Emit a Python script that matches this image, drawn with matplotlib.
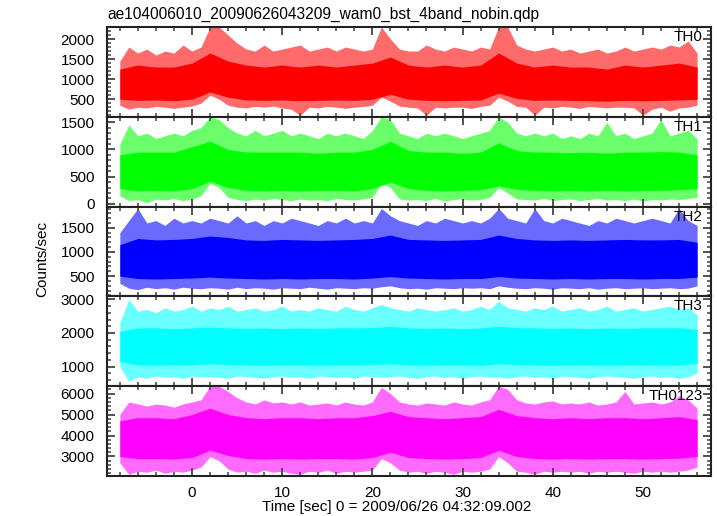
import numpy as np
import matplotlib
matplotlib.use("Agg")
import matplotlib.pyplot as plt
from matplotlib.ticker import MultipleLocator

plt.rcParams['font.family'] = ['Liberation Sans', 'DejaVu Sans']

# ---------------- data ----------------
# 1-s envelope of the spikes (t = -8 ... 56)
t_sec = list(range(-8, 57))
# 2-s envelope of the dense core (t = -8, -6, ... 56)
t_core = list(range(-8, 57, 2))

th0_spike_hi = [1450,1800,1650,1750,1600,1700,1650,1850,1700,1800,
                2300,2300,2100,1900,1750,1700,1850,1700,1750,1800,
                1850,1700,1750,1800,1700,1800,1750,1700,1750,2300,
                2000,1750,1700,1700,1850,1750,1700,1800,1750,1700,
                1800,1750,2300,2300,1850,1750,1700,1750,1800,1700,
                1750,1650,1700,1750,1650,1700,1800,1700,1750,1800,
                1750,1850,1800,1950,1650]
th0_spike_lo = [350,250,300,280,320,300,270,300,330,400,
                600,500,350,300,280,320,300,330,280,250,
                100,300,280,320,300,270,300,320,350,550,
                450,330,300,280,100,300,280,300,300,270,
                320,350,550,450,320,300,100,300,280,320,
                300,270,320,300,280,300,300,280,100,250,
                300,200,280,300,350]
th0_core_hi = [1250,1350,1300,1300,1400,1650,1450,1350,1300,1350,1300,1350,1300,1350,1400,1550,1350,
               1300,1350,1300,1350,1650,1400,1300,1350,1300,1300,1250,1350,1300,1350,1400,1300]
th0_core_lo = [500,470,480,460,500,680,550,480,470,480,460,470,480,470,500,620,500,
               470,460,470,480,650,520,470,480,470,460,450,470,460,470,480,500]

th1_spike_hi = [1100,1450,1250,1300,1200,1250,1300,1250,1350,1400,
                1600,1550,1400,1300,1250,1350,1250,1300,1350,1250,
                1300,1250,1200,1300,1250,1300,1250,1200,1350,1600,
                1550,1300,1250,1200,1300,1250,1300,1250,1200,1250,
                1300,1350,1600,1500,1300,1250,1300,1250,1300,1200,
                1250,1200,1300,1250,1500,1250,1300,1200,1250,1300,
                1550,1250,1300,1350,1200]
th1_spike_lo = [150,60,80,20,90,70,100,60,90,150,
                380,300,120,80,60,90,70,100,80,60,
                90,70,80,60,100,80,70,90,120,380,
                300,90,70,80,60,100,50,80,90,70,
                80,120,300,200,90,80,70,100,60,80,
                90,60,80,100,70,80,60,90,50,80,
                70,90,80,100,120]
th1_core_hi = [900,950,950,950,1050,1150,1000,950,950,950,950,930,950,950,1000,1150,980,
               950,950,930,950,1120,980,950,950,940,950,930,950,950,960,950,900]
th1_core_lo = [280,240,250,240,280,420,300,250,240,250,240,250,250,240,280,400,280,
               250,240,250,260,330,270,250,240,250,240,250,240,250,250,260,280]

th2_spike_hi = [1400,1650,1900,1600,1650,1550,1700,1600,1650,1600,
                1700,1650,1600,1750,1600,1650,1550,1650,1600,1700,
                1650,1600,1550,1650,1600,1700,1600,1650,1600,1900,
                1750,1650,1600,1550,1650,1600,1700,1650,1600,1650,
                1600,1700,1900,1700,1650,1600,1900,1650,1600,1700,
                1650,1600,1550,1650,1600,1700,1650,1600,1650,1700,
                1650,1600,1900,1650,1550]
th2_spike_lo = [350,250,220,270,240,260,230,270,250,240,
                260,250,230,270,240,260,250,230,260,250,
                240,270,250,230,260,250,240,260,250,280,
                300,260,240,250,230,260,250,240,260,250,
                260,240,300,270,250,240,260,250,230,260,
                250,240,260,230,250,260,240,250,260,240,
                250,260,240,250,300]
th2_core_hi = [1150,1280,1250,1260,1280,1330,1300,1250,1240,1260,1250,1240,1250,1260,1280,1350,1260,
               1250,1240,1250,1260,1350,1280,1250,1240,1250,1240,1250,1260,1250,1250,1260,1200]
th2_core_lo = [500,450,440,450,460,480,460,450,440,450,440,450,450,440,460,490,460,
               450,440,450,450,490,460,450,440,450,440,450,450,440,450,450,480]

th3_spike_hi = [2300,3000,2650,2700,2600,2750,2650,2700,2800,2650,
                2750,2700,2800,2650,2700,2750,2650,2700,2800,2650,
                2700,2650,2750,2700,2650,2800,2700,2650,2750,2850,
                2750,2700,2650,2750,2700,2650,2700,2750,2650,2700,
                2800,2700,2950,2750,2700,2650,2750,2700,2800,2650,
                2700,2750,2650,2700,2800,2650,2700,2750,2650,2700,
                2750,2800,2700,2750,2550]
th3_spike_lo = [1000,550,700,650,720,680,700,650,720,700,
                700,680,650,720,700,680,650,700,720,680,
                700,650,720,700,680,700,650,720,700,680,
                700,720,680,650,700,720,680,700,650,700,
                720,680,700,650,700,720,680,700,650,720,
                700,680,650,700,720,700,680,650,700,720,
                680,700,650,700,800]
th3_core_hi = [2050,2150,2150,2130,2150,2180,2150,2140,2150,2130,2150,2140,2150,2150,2160,2200,2150,
               2140,2150,2130,2150,2200,2160,2150,2140,2150,2130,2150,2140,2150,2150,2160,2100]
th3_core_lo = [1150,1050,1040,1050,1050,1080,1060,1050,1040,1050,1050,1040,1050,1050,1060,1080,1050,
               1040,1050,1050,1040,1080,1060,1050,1040,1050,1050,1040,1050,1050,1040,1050,1100]

th0123_spike_hi = [5000,5600,5500,5400,5500,5450,5350,5500,5600,5700,
                   6350,6350,6100,5800,5600,5500,5700,5550,5600,5500,
                   5600,5450,5500,5550,5450,5600,5500,5450,5600,6300,
                   6000,5600,5500,5450,5550,5500,5450,5600,5500,5450,
                   5600,5700,6350,6200,5700,5550,5500,5600,5650,5500,
                   5550,5500,5600,5450,5500,5600,6100,5500,5550,5600,
                   5500,5600,5900,5700,5300]
th0123_spike_lo = [2700,2150,2300,2250,2350,2200,2300,2250,2350,2500,
                   3000,2800,2400,2250,2300,2200,2350,2250,2300,2200,
                   2150,2300,2250,2350,2200,2300,2250,2300,2350,2900,
                   2700,2350,2250,2300,2200,2300,2250,2150,2300,2250,
                   2300,2400,3000,2700,2300,2250,2150,2300,2250,2300,
                   2250,2300,2200,2300,2250,2300,2250,2200,2300,2250,
                   2300,2250,2300,2350,2500]
th0123_core_hi = [4700,4850,4850,4800,5000,5300,5000,4850,4800,4850,4850,4800,4850,4850,4950,5150,4900,
                  4850,4800,4850,4900,5250,4950,4850,4800,4850,4800,4850,4850,4800,4850,4900,4750]
th0123_core_lo = [3000,2900,2900,2880,2950,3300,3050,2900,2880,2900,2880,2900,2900,2880,2950,3200,2950,
                  2900,2880,2900,2950,3300,3000,2900,2880,2900,2880,2900,2900,2880,2900,2920,3000]

labels = ["TH0", "TH1", "TH2", "TH3", "TH0123"]
colors = ["#ff0000", "#00ff00", "#0000ff", "#00ffff", "#ff00ff"]
light_colors = ["#ff6a6a", "#6aff6a", "#6a6aff", "#6affff", "#ff6aff"]
ylims = [(60, 2300), (-50, 1600), (80, 1940), (415, 3090), (2070, 6350)]
major_steps = [500, 500, 500, 1000, 1000]
minor_steps = [100, 100, 100, 200, 200]

spikes = [(th0_spike_lo, th0_spike_hi), (th1_spike_lo, th1_spike_hi), (th2_spike_lo, th2_spike_hi),
          (th3_spike_lo, th3_spike_hi), (th0123_spike_lo, th0123_spike_hi)]
cores = [(th0_core_lo, th0_core_hi), (th1_core_lo, th1_core_hi), (th2_core_lo, th2_core_hi),
         (th3_core_lo, th3_core_hi), (th0123_core_lo, th0123_core_hi)]

title = "ae104006010_20090626043209_wam0_bst_4band_nobin.qdp"
xlabel = "Time [sec] 0 = 2009/06/26 04:32:09.002"
ylabel = "Counts/sec"

# ---------------- figure ----------------
W, H = 717, 516
fig = plt.figure(figsize=(W / 100, H / 100), dpi=100)

left_px, right_px = 107, 711
top_px, bottom_px = 27, 476
n = 5
ph = (bottom_px - top_px) / n

axes = []
for i in range(n):
    y0 = top_px + i * ph
    ax = fig.add_axes([left_px / W, 1 - (y0 + ph) / H, (right_px - left_px) / W, ph / H])
    axes.append(ax)

for i, ax in enumerate(axes):
    lo_s, hi_s = spikes[i]
    lo_c, hi_c = cores[i]
    ax.fill_between(t_sec, lo_s, hi_s, color=light_colors[i], lw=0)
    ax.fill_between(t_core, lo_c, hi_c, color=colors[i], lw=0)
    ax.set_xlim(-9.42, 57.54)
    ax.set_ylim(*ylims[i])
    ax.yaxis.set_major_locator(MultipleLocator(major_steps[i]))
    ax.yaxis.set_minor_locator(MultipleLocator(minor_steps[i]))
    ax.xaxis.set_major_locator(MultipleLocator(10))
    ax.xaxis.set_minor_locator(MultipleLocator(2))
    ax.tick_params(which='both', direction='in', top=True, right=True, colors='#444444',
                   labelcolor='black', labelsize=11)
    ax.tick_params(which='major', length=6, width=1.3)
    ax.tick_params(which='minor', length=3, width=1.1)
    ax.tick_params(axis='y', pad=9)
    ax.tick_params(axis='x', pad=7)
    for s in ax.spines.values():
        s.set_linewidth(1.5)
        s.set_color('#222222')
    if i < n - 1:
        ax.tick_params(labelbottom=False)
    fig.text(703 / W, 1 - (top_px + i * ph + 3) / H, labels[i], ha='right', va='top', fontsize=11)

fig.text(left_px / W, 1 - 14 / H, title, ha='left', va='center', fontsize=11.2)
fig.text(397 / W, 1 - 507 / H, xlabel, ha='center', va='center', fontsize=11)
fig.text(42 / W, 1 - 259 / H, ylabel, ha='center', va='center', rotation=90, fontsize=11)

fig.savefig("out.png", dpi=100)
